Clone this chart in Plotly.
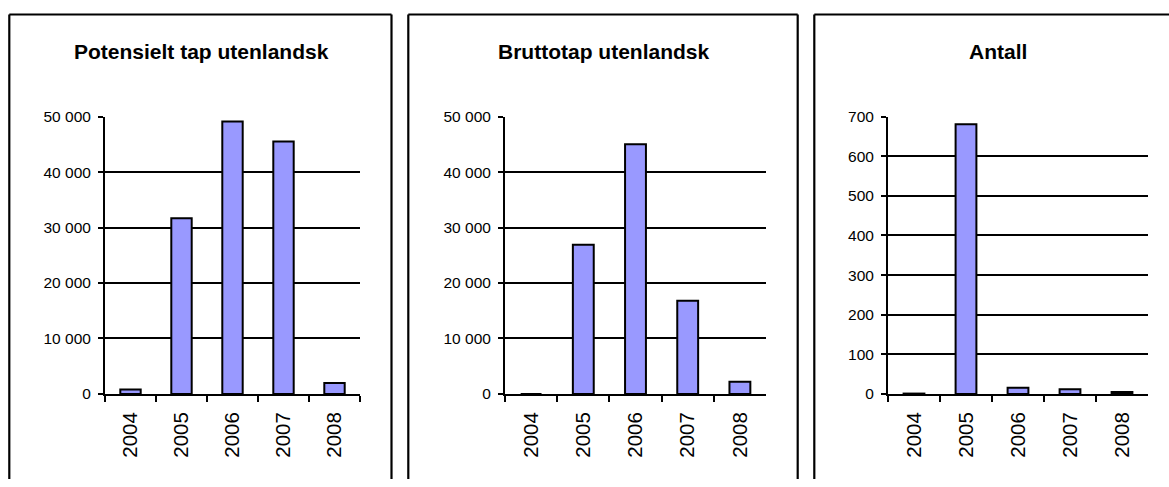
import plotly.graph_objects as go

W, H = 1169, 487

years = ["2004", "2005", "2006", "2007", "2008"]

potensielt = [800, 31700, 49100, 45500, 2000]
brutto = [0, 26900, 45000, 16800, 2200]
antall = [1, 681, 16, 12, 5]

titles = ["Potensielt tap utenlandsk", "Bruttotap utenlandsk", "Antall"]

tap_ticks = [0, 10000, 20000, 30000, 40000, 50000]
tap_ticktext = ["0", "10 000", "20 000", "30 000", "40 000", "50 000"]
antall_ticks = [0, 100, 200, 300, 400, 500, 600, 700]
antall_ticktext = ["0", "100", "200", "300", "400", "500", "600", "700"]

series = [potensielt, brutto, antall]
yranges = [[0, 50000], [0, 50000], [0, 700]]
ytickv = [tap_ticks, tap_ticks, antall_ticks]
ytickt = [tap_ticktext, tap_ticktext, antall_ticktext]

# layout in figure pixels (compensated for the vertical placement seen in the renderer)
plot_x = [(105, 360), (505, 766), (888, 1148)]
plot_y = (111.5, 398.9)
boxes = [(9.3, 391.5), (408.3, 797.7), (814.3, None)]
box_top = 5.7
title_cx = [201, 603, 998]
title_cy = 44

FONT = "Liberation Sans, Arial, sans-serif"

fig = go.Figure()
for i in range(3):
    xa = "x" if i == 0 else f"x{i+1}"
    ya = "y" if i == 0 else f"y{i+1}"
    fig.add_trace(go.Bar(
        x=years, y=series[i], xaxis=xa, yaxis=ya,
        marker=dict(color="#9999FF", line=dict(color="black", width=2)),
        showlegend=False,
    ))

layout = dict(
    width=W, height=H, autosize=False, margin=dict(l=0, r=0, t=0, b=0),
    paper_bgcolor="white", plot_bgcolor="white",
    bargap=0.6, font=dict(family=FONT, color="black"),
)
for i in range(3):
    xk = "xaxis" if i == 0 else f"xaxis{i+1}"
    yk = "yaxis" if i == 0 else f"yaxis{i+1}"
    ya = "y" if i == 0 else f"y{i+1}"
    xa = "x" if i == 0 else f"x{i+1}"
    x0, x1 = plot_x[i]
    layout[xk] = dict(
        domain=[x0 / W, x1 / W], anchor=ya, type="category",
        range=[-0.5, 4.5], showline=True, linecolor="black", linewidth=2,
        ticks="outside", tickson="boundaries", ticklen=6, tickwidth=2, tickcolor="black",
        tickangle=-90, tickfont=dict(size=20.5, family=FONT, color="black"),
        ticklabelstandoff=8,
        showgrid=False, zeroline=False, fixedrange=True,
    )
    layout[yk] = dict(
        domain=[1 - plot_y[1] / H, 1 - plot_y[0] / H], anchor=xa,
        range=yranges[i], tickmode="array", tickvals=ytickv[i], ticktext=ytickt[i],
        showline=True, linecolor="black", linewidth=2,
        ticks="outside", ticklen=5, tickwidth=2, tickcolor="black",
        tickfont=dict(size=15.5, family=FONT, color="black"), ticklabelstandoff=4,
        showgrid=True, gridcolor="black", gridwidth=2, zeroline=False, fixedrange=True,
    )
fig.update_layout(**layout)

ytop = 1 - box_top / H
bline = dict(color="black", width=2.2)
for i in range(3):
    bx0, bx1 = boxes[i]
    right = 1.0 if bx1 is None else bx1 / W
    fig.add_shape(type="line", xref="paper", yref="paper", x0=bx0 / W, x1=bx0 / W,
                  y0=0, y1=ytop, line=bline, layer="above")
    fig.add_shape(type="line", xref="paper", yref="paper", x0=bx0 / W, x1=right,
                  y0=ytop, y1=ytop, line=bline, layer="above")
    if bx1 is not None:
        fig.add_shape(type="line", xref="paper", yref="paper", x0=right, x1=right,
                      y0=0, y1=ytop, line=bline, layer="above")
    fig.add_annotation(text=f"<b>{titles[i]}</b>", xref="paper", yref="paper",
                       x=title_cx[i] / W, y=1 - title_cy / H, xanchor="center", yanchor="middle",
                       showarrow=False, font=dict(size=21, family=FONT, color="black"))

fig.write_html(
    "out.html",
    config={"displayModeBar": False, "responsive": False},
    post_script="document.body.style.margin='0';document.body.style.overflow='hidden';",
)
